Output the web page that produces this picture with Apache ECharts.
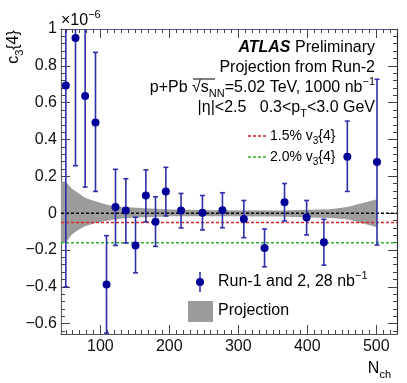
<!DOCTYPE html>
<html>
<head>
<meta charset="utf-8">
<script src="https://cdn.jsdelivr.net/npm/echarts@6/dist/echarts.min.js"></script>
<style>
html, body { margin: 0; padding: 0; background: #fff; }
#chart { width: 407px; height: 383px; }
</style>
</head>
<body>
<div id="chart"></div>
<script>
// measured points (c3{4} in units of 1e-6)
const nch = [50, 64, 78, 93, 109, 122, 137, 151, 166, 180, 195, 217, 248, 277, 308, 338, 367, 399, 424, 458, 501]
const c34 = [0.693, 0.951, 0.636, 0.493, -0.387, 0.033, 0.014, -0.175, 0.096, -0.046, 0.118, 0.014, 0.003, 0.016, -0.031, -0.189, 0.060, -0.024, -0.158, 0.307, 0.278]
const errLow = [-0.40, 0.258, 0.142, 0.118, -0.651, -0.175, -0.162, -0.324, -0.047, -0.180, -0.015, -0.080, -0.091, -0.079, -0.133, -0.291, -0.042, -0.118, -0.282, 0.118, -0.173]
const errHigh = [1.79, 1.64, 1.13, 0.873, -0.122, 0.238, 0.187, -0.022, 0.235, 0.089, 0.249, 0.107, 0.096, 0.111, 0.069, -0.086, 0.161, 0.069, -0.033, 0.500, 0.727]

// projection band
const bandN = [43, 50, 58, 68, 77, 87, 101, 116, 135, 164, 203, 260, 361, 433, 458, 501]
const bandHigh = [0.172, 0.170, 0.136, 0.109, 0.085, 0.071, 0.055, 0.041, 0.033, 0.027, 0.020, 0.016, 0.014, 0.022, 0.033, 0.076]
const bandLow = [-0.162, -0.160, -0.118, -0.091, -0.073, -0.060, -0.046, -0.037, -0.027, -0.022, -0.016, -0.016, -0.018, -0.026, -0.033, -0.076]

// reference levels: zero, -(1.5%)^4, -(2.0%)^4
const refZero = 0
const ref15 = -0.0506
const ref20 = -0.16

const xTicks = [100, 200, 300, 400, 500]
const yTicks = [-0.6, -0.4, -0.2, 0, 0.2, 0.4, 0.6, 0.8, 1]

const X_MIN = 43, X_MAX = 530
const Y_MIN = -0.656, Y_MAX = 1

const xMinor = []
for (let v = 50; v <= 530; v += 10) if (v % 100 !== 0) xMinor.push(v)
const yMinor = []
for (let k = -16; k <= 25; k++) { const v = +(k * 0.04).toFixed(2); if (v >= Y_MIN && Math.abs(v * 5 - Math.round(v * 5)) > 1e-6) yMinor.push(v) }

const FONT = '"Liberation Sans", Arial, Helvetica, sans-serif'
const MARK = '#000099'
const BAR = '#2f2fae'
const GREY = '#9c9c9c'

function tok(size, extra) {
	return Object.assign({ fontSize: size, fontFamily: FONT, fill: '#000' }, extra || {})
}
function txt(x, y, text, size, align, extra) {
	return Object.assign({
		type: 'text', x: x, y: y, z: 100,
		style: {
			text: text, fontSize: size, fontFamily: FONT, fill: '#000', lineHeight: size + 7,
			align: align, verticalAlign: 'middle',
			rich: {
				b: tok(size, { fontWeight: 'bold', fontStyle: 'italic', lineHeight: size + 7 }),
				i: tok(size, { lineHeight: size + 7 }),
				sub: tok(Math.round(size * 0.7), { verticalAlign: 'bottom', lineHeight: Math.round(size * 0.7) }),
				sup: tok(Math.round(size * 0.7), { verticalAlign: 'top', lineHeight: Math.round(size * 0.7) })
			}
		}
	}, extra || {})
}

function xAxisOf(pos, ticks, len, labels, lineColor) {
	return {
		type: 'value', min: X_MIN, max: X_MAX, position: pos,
		axisLine: { show: !!lineColor, onZero: false, lineStyle: { color: lineColor || '#000', width: 1.2 } },
		axisTick: { inside: true, length: len, customValues: ticks, lineStyle: { color: '#444' } },
		axisLabel: labels ? { customValues: ticks, fontSize: 16, fontFamily: FONT, color: '#111', margin: 5 } : { show: false },
		splitLine: { show: false }
	}
}
function yAxisOf(pos, ticks, len, labels, lineColor) {
	return {
		type: 'value', min: Y_MIN, max: Y_MAX, position: pos,
		axisLine: { show: !!lineColor, onZero: false, lineStyle: { color: lineColor || '#000', width: 1.2 } },
		axisTick: { inside: true, length: len, customValues: ticks, lineStyle: { color: '#444' } },
		axisLabel: labels ? {
			customValues: ticks, fontSize: 16, fontFamily: FONT, color: '#111', margin: 4,
			formatter: v => String(+v.toFixed(2)).replace('-', '\u2212')
		} : { show: false },
		splitLine: { show: false }
	}
}

function refLine(v, color) {
	return {
		type: 'line', z: 2, symbol: 'none', silent: true,
		data: [[X_MIN, v], [X_MAX, v]],
		lineStyle: { color: color, width: 1.5, type: [3, 2] }
	}
}

const chart = echarts.init(document.getElementById('chart'), null, { renderer: 'canvas' })
chart.setOption({
	animation: false,
	backgroundColor: '#fff',
	grid: { left: 61, top: 29, width: 336, height: 305 },
	xAxis: [
		xAxisOf('bottom', xTicks, 9, true, '#555'),
		xAxisOf('bottom', xMinor, 4, false),
		xAxisOf('top', xTicks, 9, false, '#5252a3'),
		xAxisOf('top', xMinor, 4, false)
	],
	yAxis: [
		yAxisOf('left', yTicks, 9, true, '#666'),
		yAxisOf('left', yMinor, 4, false),
		yAxisOf('right', yTicks, 9, false, '#333'),
		yAxisOf('right', yMinor, 4, false)
	],
	series: [{
		// projection band, polygon through the axis scales
		type: 'custom', z: 1, silent: true, clip: true,
		data: bandN.map((n, i) => [n, bandLow[i], bandHigh[i]]),
		encode: { x: 0, y: [1, 2] },
		renderItem(params, api) {
			if (params.dataIndex !== 0) return null
			const pts = []
			bandN.forEach((n, i) => pts.push(api.coord([n, bandHigh[i]])))
			for (let i = bandN.length - 1; i >= 0; i--) pts.push(api.coord([bandN[i], bandLow[i]]))
			return { type: 'polygon', shape: { points: pts }, style: { fill: GREY } }
		}
	},
	refLine(refZero, '#000'),
	refLine(ref15, '#dd2020'),
	refLine(ref20, '#30b030'),
	{
		// error bars
		type: 'custom', z: 3, silent: true, clip: true,
		data: nch.map((n, i) => [n, c34[i], errLow[i], errHigh[i]]),
		encode: { x: 0, y: [2, 3] },
		renderItem(params, api) {
			const x = api.value(0)
			const a = api.coord([x, api.value(3)])
			const b = api.coord([x, api.value(2)])
			const hw = 2.5
			const st = { stroke: BAR, lineWidth: 1.6 }
			return {
				type: 'group', children: [
					{ type: 'line', shape: { x1: a[0], y1: a[1], x2: b[0], y2: b[1] }, style: st },
					{ type: 'line', shape: { x1: a[0] - hw, y1: a[1], x2: a[0] + hw, y2: a[1] }, style: st },
					{ type: 'line', shape: { x1: b[0] - hw, y1: b[1], x2: b[0] + hw, y2: b[1] }, style: st }
				]
			}
		}
	}, {
		type: 'scatter', z: 4, silent: true,
		data: nch.map((n, i) => [n, c34[i]]),
		symbol: 'circle', symbolSize: 8,
		itemStyle: { color: MARK, opacity: 1 }
	}],
	graphic: [
		txt(14, 47, 'c{sub|3}{4}', 16, 'center', { rotation: Math.PI / 2 }),
		txt(61, 21, '\u00d710{sup|\u22126}', 16, 'left'),
		txt(391, 369, 'N{sub|ch}', 16, 'right'),
		txt(375, 48, '{b|ATLAS} Preliminary', 16, 'right'),
		txt(375, 68, 'Projection from Run-2', 16, 'right'),
		txt(375, 88, 'p+Pb \u221a{i|s}{sub|NN}=5.02 TeV, 1000 nb{sup|\u22121}', 16, 'right'),
		{ type: 'line', z: 100, shape: { x1: 193, y1: 79, x2: 215, y2: 79 }, style: { stroke: '#000', lineWidth: 1 } },
		txt(375, 108, '|\u03b7|<2.5   0.3<p{sub|T}<3.0 GeV', 16, 'right'),
		{ type: 'line', z: 100, shape: { x1: 248, y1: 136, x2: 267, y2: 136 }, style: { stroke: '#dd2020', lineWidth: 1.5, lineDash: [3, 2] } },
		txt(270, 136, '1.5% v{sub|3}{4}', 14, 'left'),
		{ type: 'line', z: 100, shape: { x1: 248, y1: 157, x2: 267, y2: 157 }, style: { stroke: '#30b030', lineWidth: 1.5, lineDash: [3, 2] } },
		txt(270, 157, '2.0% v{sub|3}{4}', 14, 'left'),
		{ type: 'line', z: 100, shape: { x1: 200, y1: 272, x2: 200, y2: 292 }, style: { stroke: BAR, lineWidth: 1.6 } },
		{ type: 'circle', z: 101, shape: { cx: 200, cy: 282, r: 4 }, style: { fill: MARK } },
		txt(218, 282, 'Run-1 and 2, 28 nb{sup|\u22121}', 16, 'left'),
		{ type: 'rect', z: 100, shape: { x: 188, y: 301, width: 25, height: 21 }, style: { fill: GREY } },
		txt(218, 311, 'Projection', 16, 'left')
	]
})
</script>
</body>
</html>
